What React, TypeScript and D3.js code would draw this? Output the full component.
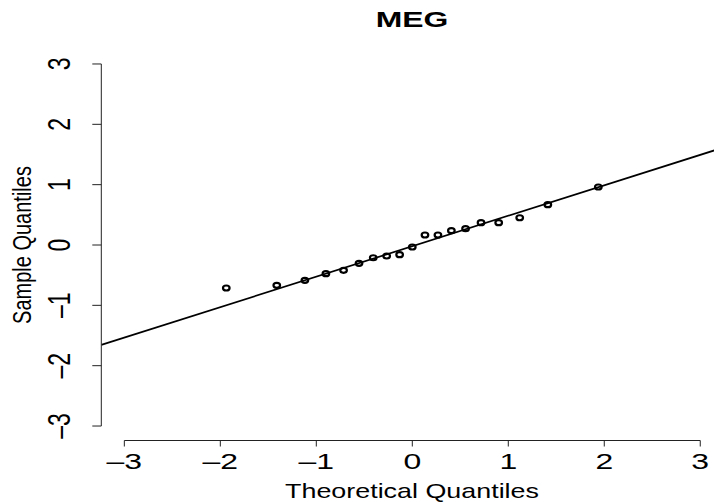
import React, { useEffect, useRef } from 'react'
import * as d3 from 'd3'

// theoretical quantiles (x) and sample quantiles (y)
const theoretical = [-1.938, -1.412, -1.119, -0.9, -0.716, -0.555, -0.407, -0.267, -0.132, 0,
  0.132, 0.267, 0.407, 0.555, 0.716, 0.9, 1.119, 1.412, 1.938]
const sample = [-0.713, -0.668, -0.585, -0.476, -0.419, -0.303, -0.211, -0.182, -0.161, -0.033,
  0.166, 0.166, 0.237, 0.27, 0.37, 0.37, 0.452, 0.668, 0.961]
const xTicks = [-3, -2, -1, 0, 1, 2, 3]
const yTicks = [-3, -2, -1, 0, 1, 2, 3]
const title = 'MEG'
const xTitle = 'Theoretical Quantiles'
const yTitle = 'Sample Quantiles'
const qnorm75 = 0.6745

const W = 714
const H = 502
const FONT = '"Liberation Sans", Arial, Helvetica, sans-serif'

export default function App() {
  const ref = useRef<SVGSVGElement>(null)

  useEffect(() => {
    const svg = d3.select(ref.current)
    svg.selectAll('*').remove()

    const left = 101.3, right = 723.3, top = 49.5, bottom = 440.5
    const x = d3.scaleLinear().domain([-3.24, 3.24]).range([left, right])
    const y = d3.scaleLinear().domain([-3.24, 3.24]).range([bottom, top])

    // text is stretched sideways in the reference, so scale x only
    const txt = (px: number, py: number, s: string, size: number, sx: number, rot = false, bold = false) => {
      svg.append('text')
        .attr('transform', `translate(${px},${py}) scale(${sx},1)` + (rot ? ' rotate(-90)' : ''))
        .attr('text-anchor', 'middle')
        .attr('font-family', FONT)
        .attr('font-size', size)
        .attr('font-weight', bold ? 'bold' : 'normal')
        .attr('fill', '#000')
        .text(s)
    }
    const fmt = (t: number) => (t < 0 ? '\u2013' + Math.abs(t) : String(t))

    svg.append('clipPath').attr('id', 'plotclip')
      .append('rect')
      .attr('x', left).attr('y', top)
      .attr('width', right - left).attr('height', bottom - top)

    // qqline through the quartiles
    const sorted = sample.slice().sort(d3.ascending)
    const q1 = d3.quantile(sorted, 0.25) as number
    const q3 = d3.quantile(sorted, 0.75) as number
    const slope = (q3 - q1) / (2 * qnorm75)
    const intercept = q1 + slope * qnorm75
    const [d0, d1] = x.domain()
    svg.append('line')
      .attr('clip-path', 'url(#plotclip)')
      .attr('x1', x(d0)).attr('y1', y(intercept + slope * d0))
      .attr('x2', x(d1)).attr('y2', y(intercept + slope * d1))
      .attr('stroke', '#000')
      .attr('stroke-width', 1.7)

    // points
    svg.append('g').selectAll('ellipse')
      .data(theoretical)
      .enter().append('ellipse')
      .attr('cx', (d) => x(d))
      .attr('cy', (d, i) => y(sample[i]))
      .attr('rx', 3.3)
      .attr('ry', 2.5)
      .attr('fill', 'none')
      .attr('stroke', '#000')
      .attr('stroke-width', 2.2)

    // x axis
    const ax = svg.append('g').attr('stroke', '#222').attr('stroke-width', 1)
    ax.append('line')
      .attr('x1', x(xTicks[0])).attr('x2', x(xTicks[xTicks.length - 1]))
      .attr('y1', bottom).attr('y2', bottom)
    xTicks.forEach((t) => {
      ax.append('line').attr('x1', x(t)).attr('x2', x(t)).attr('y1', bottom).attr('y2', bottom + 6)
      txt(x(t), 469, fmt(t), 22.5, 1.42)
    })

    // y axis
    ax.append('line')
      .attr('x1', left).attr('x2', left)
      .attr('y1', y(yTicks[0])).attr('y2', y(yTicks[yTicks.length - 1]))
    yTicks.forEach((t) => {
      ax.append('line').attr('x1', left).attr('x2', left - 9).attr('y1', y(t)).attr('y2', y(t))
      txt(70, y(t), fmt(t), 23, 1.35, true)
    })

    txt(412, 27, title, 22, 1.45, false, true)
    txt(412, 498, xTitle, 21, 1.28)
    txt(30.5, 245, yTitle, 20, 1.3, true)
  }, [])

  return (
    <svg ref={ref} width={W} height={H}
      style={{ position: 'absolute', left: 0, top: 0, background: '#fff' }} />
  )
}
